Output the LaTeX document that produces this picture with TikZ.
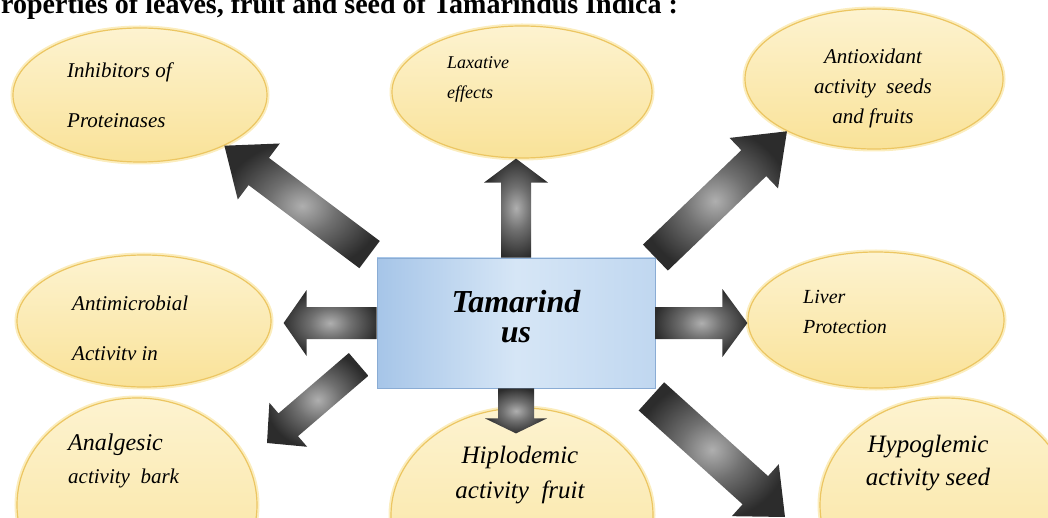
\documentclass[tikz,border=0pt]{standalone}
\usepackage{fontspec}
\setmainfont{Liberation Serif}
\usetikzlibrary{calc,shapes.geometric}

\definecolor{bubbleTop}{RGB}{253,243,208}
\definecolor{bubbleBot}{RGB}{249,226,152}
\definecolor{bubbleEdge}{RGB}{236,198,98}
\definecolor{bubbleGlow}{RGB}{251,237,190}
\definecolor{boxLeft}{RGB}{166,197,232}
\definecolor{boxMid}{RGB}{214,230,246}
\definecolor{boxRight}{RGB}{192,215,240}
\definecolor{boxEdge}{RGB}{138,172,212}
\definecolor{arrowLight}{RGB}{175,175,175}
\definecolor{arrowMid}{RGB}{112,112,112}
\definecolor{arrowDark}{RGB}{44,44,44}

\pgfdeclareradialshading{fatshade}{\pgfpoint{0bp}{0bp}}{%
  color(0bp)=(arrowLight); color(11bp)=(arrowMid); color(26bp)=(arrowDark); color(50bp)=(arrowDark)}

\tikzset{
  bubble/.style={ellipse,top color=bubbleTop,bottom color=bubbleBot,draw=bubbleEdge,line width=1.2pt,
    preaction={draw=bubbleGlow,line width=5pt},inner sep=0pt},
  centre/.style={rectangle,left color=boxLeft,right color=boxRight,middle color=boxMid,draw=boxEdge,line width=0.8pt},
  lbl/.style 2 args={font=\itshape\fontsize{#1}{#2}\selectfont,inner sep=0pt},
  heading/.style={font=\bfseries\fontsize{28}{30}\selectfont,inner sep=0pt}
}

% tail, tip, shaft half width, head half width, head length
\newcommand{\fatarrow}[5]{%
  \coordinate (hb) at ($(#2)!#5pt!(#1)$);
  \shade[shading=fatshade]
    ($(#1)!#3pt!90:(#2)$) -- ($(hb)!#3pt!90:(#2)$) -- ($(hb)!#4pt!90:(#2)$) -- (#2)
    -- ($(hb)!#4pt!-90:(#2)$) -- ($(hb)!#3pt!-90:(#2)$) -- ($(#1)!#3pt!-90:(#2)$) -- cycle;
}

\begin{document}
\begin{tikzpicture}[x=1pt,y=-1pt]
  \useasboundingbox (0,0) rectangle (1048,518);
  \clip (0,0) rectangle (1048,518);

  % title, cut by the top edge
  \node[heading,anchor=base west] (ttl) at (1,14) {roperties of leaves, fruit and seed of Tamarindus Indica :};

  % bubbles
  \node[bubble,minimum width=254pt,minimum height=134pt] (inh) at (140,95) {};
  \node[bubble,minimum width=260pt,minimum height=132pt] (lax) at (522,92) {};
  \node[bubble,minimum width=258pt,minimum height=140pt] (anti) at (874,79) {};
  \node[bubble,minimum width=254pt,minimum height=132pt] (micro) at (144,321) {};
  \node[bubble,minimum width=256pt,minimum height=136pt] (liver) at (876,320) {};
  \node[bubble,minimum width=240pt,minimum height=214pt] (analg) at (137,505) {};
  \node[bubble,minimum width=262pt,minimum height=214pt] (hiplo) at (522,515) {};
  \node[bubble,minimum width=250pt,minimum height=214pt] (hypo) at (945,505) {};

  % centre box
  \node[centre,minimum width=278pt,minimum height=130pt] (box) at (516,323) {};

  % arrow ends
  \coordinate (inhTail) at ($(box.north west)+(-7,-3)$);
  \coordinate (inhTip) at (inh.-31);
  \coordinate (laxTip) at (box.north|-lax.south);
  \coordinate (antiTip) at (anti.211);
  \coordinate (microTip) at ($(box.west-|micro.east)+(12,0)$);
  \coordinate (liverTip) at (box.east-|liver.west);
  \coordinate (analgTail) at ($(box.south west)+(-18,-24)$);
  \coordinate (analgTip) at (267,443);
  \coordinate (hiploTip) at ($(box.south)+(0,45)$);
  \coordinate (hypoTail) at ($(box.south east)+(-4,8)$);
  \coordinate (hypoTip) at (785,517);

  \fatarrow{inhTail}{inhTip}{17}{35}{43}
  \fatarrow{box.north}{laxTip}{15}{32}{24}
  \fatarrow{box.north east}{antiTip}{18}{35}{46}
  \fatarrow{box.west}{microTip}{16}{33}{23}
  \fatarrow{box.east}{liverTip}{16}{34}{25}
  \fatarrow{analgTail}{analgTip}{15}{29}{28}
  \fatarrow{box.south}{hiploTip}{18}{31}{15}
  \fatarrow{hypoTail}{hypoTip}{19}{35}{40}

  % texts
  \node[font=\bfseries\itshape\fontsize{32}{30}\selectfont,align=center] (boxTxt) at (516,317) {Tamarind\\us};
  \node[lbl={21}{50},align=left,anchor=west] (inhTxt) at (67,95) {Inhibitors of\\Proteinases};
  \node[lbl={18}{30},align=left,anchor=west] (laxTxt) at (447,79) {Laxative\\effects};
  \node[lbl={21}{30},align=center] (antiTxt) at (873,88) {Antioxidant\\activity\ \ seeds\\and fruits};
  \node[lbl={21}{50},align=left,anchor=west] (microTxt) at (72,328) {Antimicrobial\\Activitv in};
  \node[lbl={20}{30},align=left,anchor=west] (liverTxt) at (803,312) {Liver\\Protection};
  \node[lbl={24}{33},align=left,anchor=west] (analgTxt) at (68,461) {Analgesic\\{\fontsize{21}{33}\selectfont activity\ \ bark}};
  \node[lbl={25}{35},align=center] (hiploTxt) at (520,475) {Hiplodemic\\activity\ \ fruit};
  \node[lbl={25}{33},align=center] (hypoTxt) at (928,463) {Hypoglemic\\activity seed};
\end{tikzpicture}
\end{document}
